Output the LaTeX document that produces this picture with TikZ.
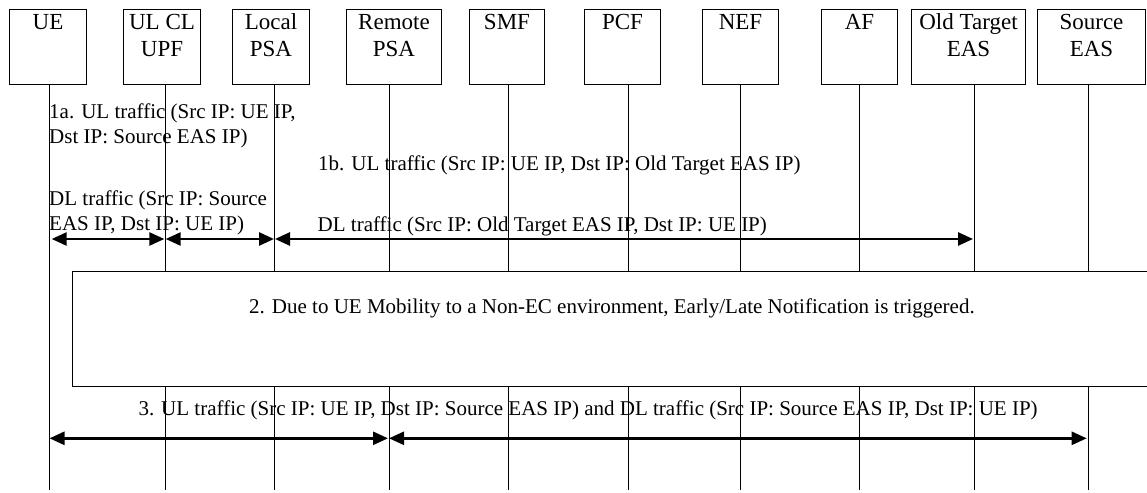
\documentclass[tikz,border=0pt]{standalone}
\usepackage{fontspec}
\setmainfont[Ligatures=NoCommon]{Liberation Serif}
\usetikzlibrary{arrows.meta}
\tikzset{
  hdrbox/.style={draw, line width=1pt, minimum height=75pt, inner sep=0pt, anchor=north west, fill=white},
  hdrtext/.style={font=\fontsize{23}{26.7}\selectfont, align=center, anchor=base, inner sep=0pt},
  msg/.style={font=\fontsize{21}{24.5}\selectfont, align=left, anchor=base west, inner sep=0pt},
  life/.style={line width=1pt},
  flow/.style={line width=2.6pt, {Triangle[length=15pt,width=13pt]}-{Triangle[length=15pt,width=13pt]}},
}
\begin{document}
\begin{tikzpicture}[x=1pt,y=-1pt]
\useasboundingbox (0,0) rectangle (1147,492);
\fill[white] (0,0) rectangle (1147,492);
% header boxes
\node[hdrbox, minimum width=77pt]  (ue)   at (9,9) {};
\node[hdrbox, minimum width=77pt]  (upf)  at (123,9) {};
\node[hdrbox, minimum width=77pt]  (lpsa) at (232,9) {};
\node[hdrbox, minimum width=95pt]  (rpsa) at (346,9) {};
\node[hdrbox, minimum width=75pt]  (smf)  at (469,9) {};
\node[hdrbox, minimum width=76pt]  (pcf)  at (584,9) {};
\node[hdrbox, minimum width=76pt]  (nef)  at (702,9) {};
\node[hdrbox, minimum width=76pt]  (af)   at (821,9) {};
\node[hdrbox, minimum width=114pt] (oeas) at (911,9) {};
\node[hdrbox, minimum width=108pt] (seas) at (1037,9) {};
% header texts (base anchor = baseline of last line)
\node[hdrtext] (tue)   at (ue.center |- 0,30)     {UE};
\node[hdrtext] (tupf)  at (upf.center |- 0,56.7)  {UL CL\\UPF};
\node[hdrtext] (tlpsa) at (lpsa.center |- 0,56.7) {Local\\PSA};
\node[hdrtext] (trpsa) at (rpsa.center |- 0,56.7) {Remote\\PSA};
\node[hdrtext] (tsmf)  at (smf.center |- 0,30)    {SMF};
\node[hdrtext] (tpcf)  at (pcf.center |- 0,30)    {PCF};
\node[hdrtext] (tnef)  at (nef.center |- 0,30)    {NEF};
\node[hdrtext] (taf)   at (af.center |- 0,30)     {AF};
\node[hdrtext] (toeas) at (oeas.center |- 0,56.7) {Old Target\\EAS};
\node[hdrtext] (tseas) at (seas.center |- 0,56.7) {Source\\EAS};
% lifeline ends
\coordinate (ueL)   at (49,490);
\coordinate (upfL)  at (165,490);
\coordinate (lpsaL) at (274,490);
\coordinate (rpsaL) at (389,490);
\coordinate (smfL)  at (508,490);
\coordinate (pcfL)  at (628,490);
\coordinate (nefL)  at (740,490);
\coordinate (afL)   at (859,490);
\coordinate (oeasL) at (974,490);
\coordinate (seasL) at (1088,490);
\foreach \n in {ue,upf,lpsa,rpsa,smf,pcf,nef,af,oeas,seas}{
  \draw[life] (\n.south -| \n L) -- (\n L);
}
% messages 1
\node[msg] (m1a) at (49,143.3) {1a. UL traffic (Src IP: UE IP,\\Dst IP: Source EAS IP)};
\node[msg] (m1b) at (318,170) {1b. UL traffic (Src IP: UE IP, Dst IP: Old Target EAS IP)};
\node[msg] (m1c) at (49,230) {DL traffic (Src IP: Source\\EAS IP, Dst IP: UE IP)};
\node[msg] (m1d) at (317.5,231) {DL traffic (Src IP: Old Target EAS IP, Dst IP: UE IP)};
\coordinate (a1s) at (51.7,239);
\coordinate (a1e) at (164.3,239);
\coordinate (a2s) at (165.7,239);
\coordinate (a2e) at (274,239);
\coordinate (a3s) at (275,239);
\coordinate (a3e) at (973,239);
\draw[flow] (a1s) -- (a1e);
\draw[flow] (a2s) -- (a2e);
\draw[flow] (a3s) -- (a3e);
% box 2
\node[draw, fill=white, line width=1pt, anchor=north west, minimum width=1085pt, minimum height=115.6pt, inner sep=0pt] (box2) at (72.3,270.7) {};
\node[msg] (m2) at (249,313) {2. Due to UE Mobility to a Non-EC environment, Early/Late Notification is triggered.};
% message 3
\node[msg] (m3) at (138.3,415.5) {3. UL traffic (Src IP: UE IP, Dst IP: Source EAS IP) and DL traffic (Src IP: Source EAS IP, Dst IP: UE IP)};
\coordinate (b1s) at (49.5,438.3);
\coordinate (b1e) at (388,438.3);
\coordinate (b2s) at (389,438.3);
\coordinate (b2e) at (1086.7,438.3);
\draw[flow] (b1s) -- (b1e);
\draw[flow] (b2s) -- (b2e);
\end{tikzpicture}
\end{document}
